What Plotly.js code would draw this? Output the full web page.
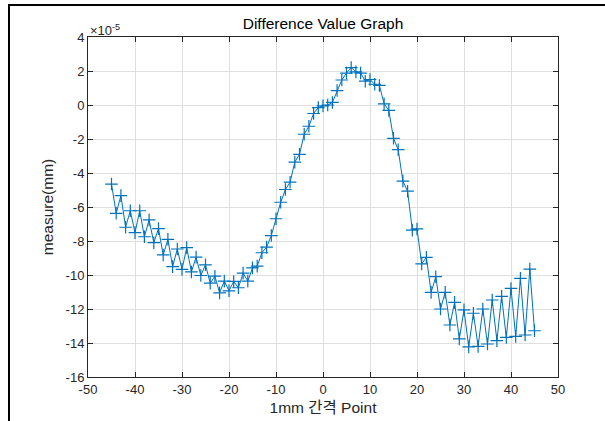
<!DOCTYPE html>
<html>
<head>
<meta charset="utf-8">
<script src="https://cdn.plot.ly/plotly-3.0.1.min.js"></script>
<style>
  html, body { margin: 0; padding: 0; background: #ffffff; }
  #wrap { position: relative; width: 605px; height: 421px; overflow: hidden; }
  #chart { position: absolute; left: 0; top: 0; width: 605px; height: 421px; }
  #frame { position: absolute; left: 8px; top: 4px; width: 640px; height: 460px;
           border-left: 2px solid #000; border-top: 2px solid #000; pointer-events: none; }
</style>
</head>
<body>
<div id="wrap">
  <div id="chart"></div>
  <div id="frame"></div>
</div>
<script>
// Point positions (1mm spacing)
const points = [-45,-44,-43,-42,-41,-40,-39,-38,-37,-36,-35,-34,-33,-32,-31,-30,-29,-28,-27,-26,
  -25,-24,-23,-22,-21,-20,-19,-18,-17,-16,-15,-14,-13,-12,-11,-10,-9,-8,-7,-6,
  -5,-4,-3,-2,-1,0,1,2,3,4,5,6,7,8,9,10,11,12,13,14,
  15,16,17,18,19,20,21,22,23,24,25,26,27,28,29,30,31,32,33,34,
  35,36,37,38,39,40,41,42,43,44,45];

// Measured difference values, in units of 1e-5 mm
const measure = [-4.65,-6.37,-5.33,-7.19,-6.22,-7.51,-6.22,-7.75,-6.76,-8.10,-7.27,-8.82,-7.90,-9.51,-8.47,-9.67,-8.39,-9.82,-8.95,-10.03,
  -9.40,-10.48,-10.07,-11.05,-10.36,-10.93,-10.38,-10.75,-9.89,-10.36,-9.58,-9.48,-8.69,-8.36,-7.68,-6.69,-5.72,-4.97,-4.54,-3.36,
  -2.90,-1.72,-1.25,-0.50,-0.15,-0.05,0.00,0.15,0.85,1.47,1.88,2.20,1.95,1.88,1.40,1.50,1.22,1.15,0.07,-0.32,
  -1.96,-2.63,-4.48,-5.07,-7.36,-7.29,-9.35,-8.96,-11.02,-10.10,-12.00,-11.02,-12.94,-11.61,-13.76,-12.05,-14.23,-12.25,-14.20,-12.00,
  -14.06,-11.47,-13.86,-11.26,-13.67,-10.79,-13.61,-10.20,-13.53,-9.65,-13.28];

const xTickVals = [-50,-40,-30,-20,-10,0,10,20,30,40,50];
const xTickText = ['-50','-40','-30','-20','-10','0','10','20','30','40','50'];
const yTickVals = [-16,-14,-12,-10,-8,-6,-4,-2,0,2,4];
const yTickText = ['-16','-14','-12','-10','-8','-6','-4','-2','0','2','4'];

const FONT = 'Liberation Sans, Arial, Helvetica, "Noto Sans CJK KR", sans-serif';

const trace = {
  x: points, y: measure, type: 'scatter', mode: 'lines+markers',
  line: { color: '#0072BD', width: 1 },
  marker: { symbol: 'cross-thin', size: 9, line: { color: '#0072BD', width: 1.2 }, color: '#0072BD' },
  hoverinfo: 'x+y'
};

const axisCommon = {
  showline: true, linecolor: '#262626', linewidth: 1, mirror: 'ticks',
  ticks: 'inside', ticklen: 5, tickcolor: '#262626', tickwidth: 1,
  showgrid: true, gridcolor: '#dfdfdf', gridwidth: 1,
  zeroline: false,
  tickfont: { family: FONT, size: 13, color: '#262626' }
};

const layout = {
  width: 605, height: 421,
  margin: { l: 88, r: 47, t: 37, b: 44 },
  paper_bgcolor: '#ffffff', plot_bgcolor: '#ffffff',
  showlegend: false,
  title: { text: 'Difference Value Graph', font: { family: FONT, size: 15.5, color: '#000' },
           x: 0.5, xref: 'paper', xanchor: 'center', y: 1, yref: 'paper', yanchor: 'bottom', pad: { b: 8 } },
  xaxis: Object.assign({}, axisCommon, {
    range: [-50, 50], tickvals: xTickVals, ticktext: xTickText,
    title: { text: '1mm 간격 Point', font: { family: FONT, size: 15.5, color: '#262626' }, standoff: 6 }
  }),
  yaxis: Object.assign({}, axisCommon, {
    range: [-16, 4], tickvals: yTickVals, ticktext: yTickText,
    title: { text: 'measure(mm)', font: { family: FONT, size: 15.5, color: '#262626' }, standoff: 8 }
  }),
  annotations: [{
    text: '×10<sup>-5</sup>', xref: 'paper', yref: 'paper', x: 0, y: 1,
    xanchor: 'left', yanchor: 'bottom', showarrow: false, xshift: 0, yshift: -3,
    font: { family: FONT, size: 13, color: '#262626' }
  }]
};

Plotly.newPlot('chart', [trace], layout, { displayModeBar: false, staticPlot: true });
</script>
</body>
</html>
